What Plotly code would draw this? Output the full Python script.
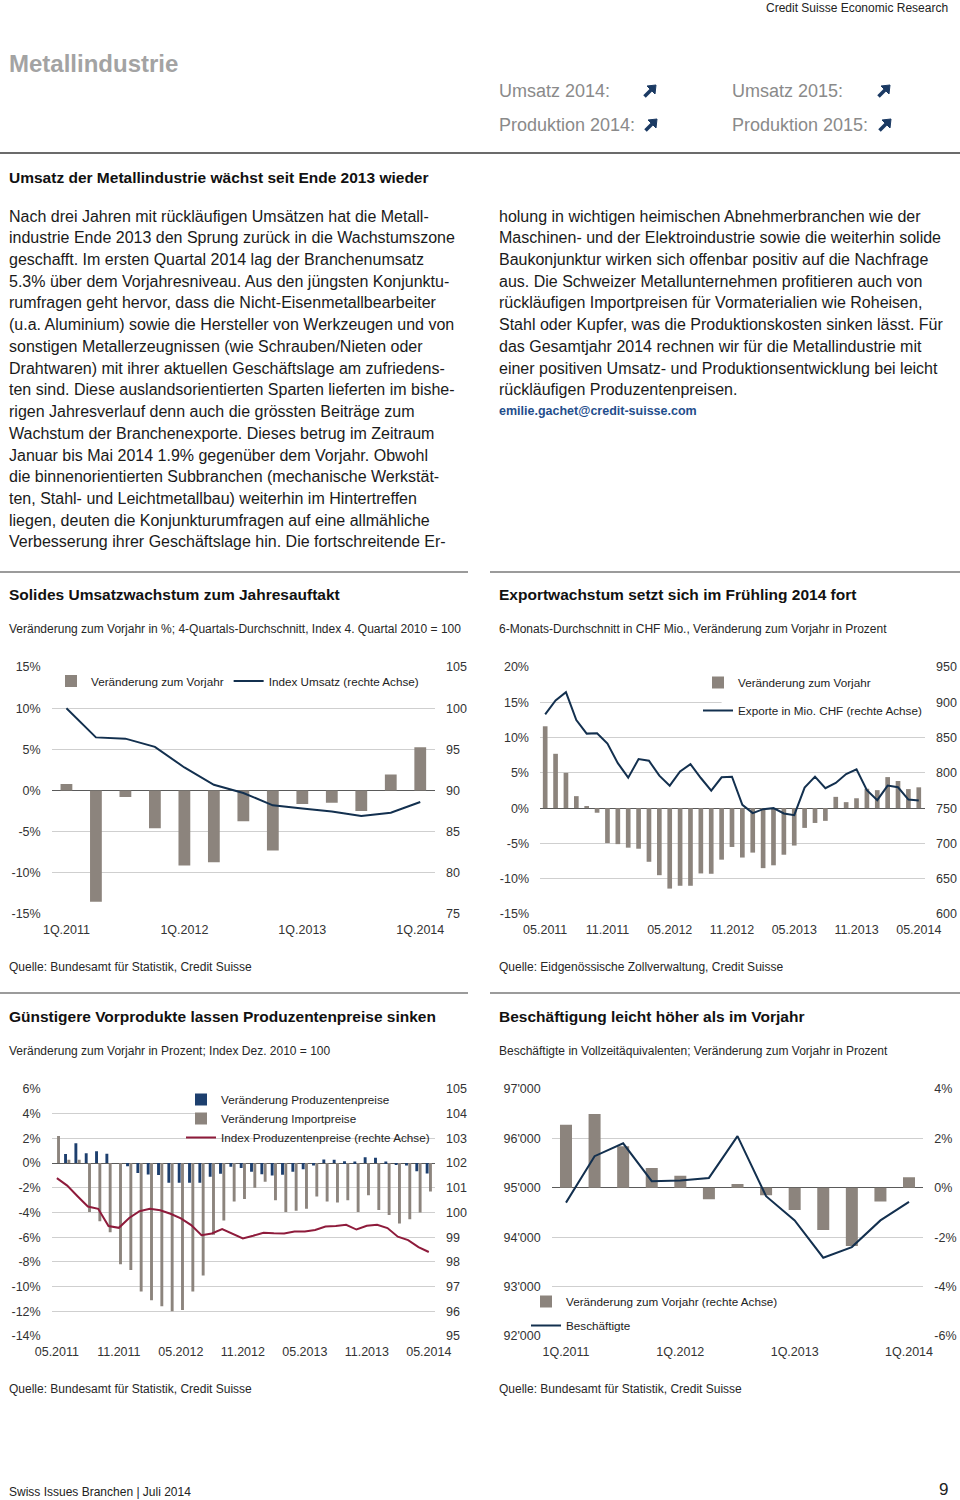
import plotly.graph_objects as go

W, H = 960, 1500
FONT = "Liberation Sans, Arial, Helvetica, sans-serif"


def X(p):
    return p / W


def Y(p):
    return 1 - p / H


# ---------------- data ----------------
quarters = ["1Q.2011", "2Q.2011", "3Q.2011", "4Q.2011", "1Q.2012", "2Q.2012", "3Q.2012",
            "4Q.2012", "1Q.2013", "2Q.2013", "3Q.2013", "4Q.2013", "1Q.2014"]
quarter_ticks = ["1Q.2011", "1Q.2012", "1Q.2013", "1Q.2014"]

months = ["05.2011", "06.2011", "07.2011", "08.2011", "09.2011", "10.2011", "11.2011", "12.2011",
          "01.2012", "02.2012", "03.2012", "04.2012", "05.2012", "06.2012", "07.2012", "08.2012",
          "09.2012", "10.2012", "11.2012", "12.2012", "01.2013", "02.2013", "03.2013", "04.2013",
          "05.2013", "06.2013", "07.2013", "08.2013", "09.2013", "10.2013", "11.2013", "12.2013",
          "01.2014", "02.2014", "03.2014", "04.2014", "05.2014"]
month_ticks = ["05.2011", "11.2011", "05.2012", "11.2012", "05.2013", "11.2013", "05.2014"]

# Chart 1: Umsatz
umsatz_change = [0.8, -13.5, -0.8, -4.6, -9.1, -8.7, -3.75, -7.3, -1.65, -1.5, -2.5, 1.95, 5.25]
umsatz_index = [100.0, 96.45, 96.3, 95.3, 92.8, 90.7, 89.7, 88.2, 87.8, 87.45, 86.9, 87.3, 88.6]
c1_left_vals = [-15, -10, -5, 0, 5, 10, 15]
c1_left_text = ["-15%", "-10%", "-5%", "0%", "5%", "10%", "15%"]
c1_right_vals = [75, 80, 85, 90, 95, 100, 105]

# Chart 2: Exporte
export_change = [11.6, 7.7, 5.0, 1.7, 0.3, -0.65, -4.95, -5.1, -5.6, -5.75, -7.6, -9.5, -11.4,
                 -11.0, -11.0, -9.25, -9.3, -7.3, -5.5, -7.0, -6.3, -8.5, -8.1, -6.6, -5.3, -2.8,
                 -2.1, -1.8, 1.6, 0.85, 1.4, 2.75, 2.55, 4.4, 3.85, 2.7, 2.95]
export_level = [883.0, 902.6, 914.3, 874.9, 855.6, 856.1, 841.5, 813.8, 793.2, 819.5, 817.1,
                796.0, 781.9, 802.1, 812.4, 792.7, 774.9, 793.7, 794.6, 754.7, 743.0, 748.6,
                750.0, 742.5, 740.1, 779.1, 794.6, 778.2, 785.7, 798.4, 804.9, 775.4, 761.3,
                781.9, 779.6, 762.2, 760.8]
c2_left_vals = [-15, -10, -5, 0, 5, 10, 15, 20]
c2_left_text = ["-15%", "-10%", "-5%", "0%", "5%", "10%", "15%", "20%"]
c2_right_vals = [600, 650, 700, 750, 800, 850, 900, 950]

# Chart 3: Preise
producer_change = [0.0, 0.73, 1.6, 0.8, 0.95, 0.75, 0.0, -0.25, -0.8, -0.92, -0.97, -1.6, -1.6,
                   -1.6, -1.6, -1.1, -0.86, -0.3, -0.4, -0.7, -0.9, -1.0, -0.95, -0.7, -0.5,
                   -0.2, 0.3, 0.27, 0.15, 0.13, 0.48, 0.43, 0.13, -0.13, -0.2, -0.65, -0.85]
import_change = [2.2, 0.27, 0.27, -3.96, -4.7, -5.6, -8.2, -8.65, -10.4, -11.1, -11.6, -12.0,
                 -11.9, -10.4, -9.1, -5.8, -4.65, -3.1, -2.9, -2.0, -1.5, -3.0, -3.96, -3.85,
                 -3.7, -2.7, -3.1, -3.2, -3.0, -3.96, -2.6, -3.8, -4.2, -4.9, -4.55, -4.0, -2.3]
producer_index = [101.39, 101.09, 100.66, 100.24, 100.15, 99.45, 99.38, 99.78, 100.05, 100.15,
                  100.09, 99.95, 99.76, 99.49, 99.08, 99.15, 99.33, 99.15, 98.95, 99.06, 99.18,
                  99.16, 99.15, 99.23, 99.23, 99.29, 99.43, 99.45, 99.50, 99.31, 99.46, 99.50,
                  99.37, 99.02, 98.88, 98.60, 98.40]
c3_left_vals = [-14, -12, -10, -8, -6, -4, -2, 0, 2, 4, 6]
c3_left_text = ["-14%", "-12%", "-10%", "-8%", "-6%", "-4%", "-2%", "0%", "2%", "4%", "6%"]
c3_right_vals = [95, 96, 97, 98, 99, 100, 101, 102, 103, 104, 105]

# Chart 4: Beschäftigung
employment_change = [2.55, 2.99, 1.68, 0.8, 0.49, -0.46, 0.15, -0.3, -0.9, -1.71, -2.36, -0.55, 0.43]
employment = [94700, 95640, 95900, 95135, 95150, 95200, 96045, 94830, 94340, 93585, 93800, 94340, 94715]
c4_left_vals = [92000, 93000, 94000, 95000, 96000, 97000]
c4_left_text = ["92'000", "93'000", "94'000", "95'000", "96'000", "97'000"]
c4_right_vals = [-6, -4, -2, 0, 2, 4]
c4_right_text = ["-6%", "-4%", "-2%", "0%", "2%", "4%"]

# ---------------- style ----------------
BAR = "#8c847d"
NAVY = "#13304f"
BLUE = "#1d3f6e"
RED = "#8e1b3b"
GRID = "#cfcfcf"
ZERO = "#5a5a5a"
TICK = dict(size=12.5, color="#333333", family=FONT)
LEG = dict(size=11.7, color="#222222", family=FONT)

fig = go.Figure()

# Chart 1
fig.add_trace(go.Bar(x=quarters, y=umsatz_change, name="Veränderung zum Vorjahr", marker_color=BAR,
                     width=0.4, xaxis="x", yaxis="y", legend="legend"))
fig.add_trace(go.Scatter(x=quarters, y=umsatz_index, name="Index Umsatz (rechte Achse)", mode="lines",
                         line=dict(color=NAVY, width=2), xaxis="x", yaxis="y2", legend="legend"))
# Chart 2
fig.add_trace(go.Bar(x=months, y=export_change, name="Veränderung zum Vorjahr", marker_color=BAR,
                     width=0.45, xaxis="x2", yaxis="y3", legend="legend2", legendgroup="a"))
fig.add_trace(go.Scatter(x=months, y=export_level, name="Exporte in Mio. CHF (rechte Achse)", mode="lines",
                         line=dict(color=NAVY, width=2), xaxis="x2", yaxis="y4", legend="legend2",
                         legendgroup="b"))
# Chart 3
fig.add_trace(go.Bar(x=months, y=producer_change, name="Veränderung Produzentenpreise", marker_color=BLUE,
                     width=0.28, offset=-0.3, xaxis="x3", yaxis="y5", legend="legend3"))
fig.add_trace(go.Bar(x=months, y=import_change, name="Veränderung Importpreise", marker_color=BAR,
                     width=0.28, offset=0.02, xaxis="x3", yaxis="y5", legend="legend3"))
fig.add_trace(go.Scatter(x=months, y=producer_index, name="Index Produzentenpreise (rechte Achse)",
                         mode="lines", line=dict(color=RED, width=2), xaxis="x3", yaxis="y6",
                         legend="legend3"))
# Chart 4
fig.add_trace(go.Bar(x=quarters, y=employment_change, name="Veränderung zum Vorjahr (rechte Achse)",
                     marker_color=BAR, width=0.42, xaxis="x4", yaxis="y7", legend="legend4",
                     legendgroup="a"))
fig.add_trace(go.Scatter(x=quarters, y=employment, name="Beschäftigte", mode="lines",
                         line=dict(color=NAVY, width=2), xaxis="x4", yaxis="y8", legend="legend4",
                         legendgroup="b"))


def xax(x0, x1, anchor, ticks):
    return dict(domain=[X(x0), X(x1)], anchor=anchor, type="category", tickvals=ticks,
                showgrid=False, showline=False, zeroline=False, ticks="", tickfont=TICK,
                ticklabelstandoff=6, automargin=False, fixedrange=True)


def yax(top, bottom, rng, vals, text, grid=True, side="left", overlay=None, anchor=None, zero=False):
    d = dict(range=rng, tickvals=vals, ticktext=text, showgrid=grid, gridcolor=GRID, gridwidth=1,
             zeroline=zero, zerolinecolor=ZERO, zerolinewidth=1.3, showline=False, ticks="",
             tickfont=TICK, side=side, ticklabelstandoff=10, automargin=False, fixedrange=True)
    if overlay:
        d["overlaying"] = overlay
    else:
        d["domain"] = [Y(bottom), Y(top)]
    if anchor:
        d["anchor"] = anchor
    return d


fig.update_layout(
    width=W, height=H, margin=dict(l=0, r=0, t=0, b=0), template="none",
    paper_bgcolor="white", plot_bgcolor="rgba(0,0,0,0)", barmode="overlay",
    font=dict(family=FONT, color="#222222"),
    xaxis=xax(51.7, 435, "y", quarter_ticks),
    yaxis=yax(667, 914, [-15, 15], c1_left_vals, c1_left_text, zero=True, anchor="x"),
    yaxis2=yax(0, 0, [75, 105], c1_right_vals, [str(v) for v in c1_right_vals], grid=False,
               side="right", overlay="y", anchor="x"),
    xaxis2=xax(540, 925, "y3", month_ticks),
    yaxis3=yax(667, 914, [-15, 20], c2_left_vals, c2_left_text, zero=True, anchor="x2"),
    yaxis4=yax(0, 0, [600, 950], c2_right_vals, [str(v) for v in c2_right_vals], grid=False,
               side="right", overlay="y3", anchor="x2"),
    xaxis3=xax(51.7, 435, "y5", month_ticks),
    yaxis5=yax(1089, 1336, [-14, 6], c3_left_vals, c3_left_text, zero=True, anchor="x3"),
    yaxis6=yax(0, 0, [95, 105], c3_right_vals, [str(v) for v in c3_right_vals], grid=False,
               side="right", overlay="y5", anchor="x3"),
    xaxis4=xax(551.7, 923.3, "y7", quarter_ticks),
    yaxis7=yax(1089, 1336, [-6, 4], c4_right_vals, c4_right_text, zero=True, side="right", anchor="x4"),
    yaxis8=yax(0, 0, [92000, 97000], c4_left_vals, c4_left_text, grid=False, side="left",
               overlay="y7", anchor="x4"),
    legend=dict(x=X(51), y=Y(681), xanchor="left", yanchor="middle", orientation="h",
                bgcolor="rgba(0,0,0,0)", font=LEG, itemwidth=30, traceorder="normal"),
    legend2=dict(x=X(698), y=Y(668), xanchor="left", yanchor="top", orientation="v",
                 bgcolor="rgba(0,0,0,0)", font=LEG, itemwidth=30, tracegroupgap=9,
                 traceorder="grouped"),
    legend3=dict(x=X(181), y=Y(1085), xanchor="left", yanchor="top", orientation="v",
                 bgcolor="rgba(0,0,0,0)", font=LEG, itemwidth=30, traceorder="normal"),
    legend4=dict(x=X(526), y=Y(1287), xanchor="left", yanchor="top", orientation="v",
                 bgcolor="rgba(0,0,0,0)", font=LEG, itemwidth=30, tracegroupgap=5,
                 traceorder="grouped"),
)

# ---------------- page text ----------------
ann = []


def text(x, y, s, size, color="#1a1a1a", bold=False, anchor="left"):
    if bold:
        s = "<b>" + s + "</b>"
    ann.append(dict(x=X(x), y=Y(y), xref="paper", yref="paper", text=s, showarrow=False,
                    xanchor=anchor, yanchor="middle", font=dict(size=size, color=color, family=FONT)))


text(950, 8, "Credit Suisse Economic Research", 12, "#222222", anchor="right")
text(7, 64, "Metallindustrie", 24, "#a3a3a3", bold=True)
text(497, 91, "Umsatz 2014:", 18, "#8a8a8a")
text(730, 91, "Umsatz 2015:", 18, "#8a8a8a")
text(497, 125, "Produktion 2014:", 18, "#8a8a8a")
text(730, 125, "Produktion 2015:", 18, "#8a8a8a")

text(7, 177, "Umsatz der Metallindustrie wächst seit Ende 2013 wieder", 15.5, "#111111", bold=True)

left_lines = [
    "Nach drei Jahren mit rückläufigen Umsätzen hat die Metall-",
    "industrie Ende 2013 den Sprung zurück in die Wachstumszone",
    "geschafft. Im ersten Quartal 2014 lag der Branchenumsatz",
    "5.3% über dem Vorjahresniveau. Aus den jüngsten Konjunktu-",
    "rumfragen geht hervor, dass die Nicht-Eisenmetallbearbeiter",
    "(u.a. Aluminium) sowie die Hersteller von Werkzeugen und von",
    "sonstigen Metallerzeugnissen (wie Schrauben/Nieten oder",
    "Drahtwaren) mit ihrer aktuellen Geschäftslage am zufriedens-",
    "ten sind. Diese auslandsorientierten Sparten lieferten im bishe-",
    "rigen Jahresverlauf denn auch die grössten Beiträge zum",
    "Wachstum der Branchenexporte. Dieses betrug im Zeitraum",
    "Januar bis Mai 2014 1.9% gegenüber dem Vorjahr. Obwohl",
    "die binnenorientierten Subbranchen (mechanische Werkstät-",
    "ten, Stahl- und Leichtmetallbau) weiterhin im Hintertreffen",
    "liegen, deuten die Konjunkturumfragen auf eine allmähliche",
    "Verbesserung ihrer Geschäftslage hin. Die fortschreitende Er-",
]
right_lines = [
    "holung in wichtigen heimischen Abnehmerbranchen wie der",
    "Maschinen- und der Elektroindustrie sowie die weiterhin solide",
    "Baukonjunktur wirken sich offenbar positiv auf die Nachfrage",
    "aus. Die Schweizer Metallunternehmen profitieren auch von",
    "rückläufigen Importpreisen für Vormaterialien wie Roheisen,",
    "Stahl oder Kupfer, was die Produktionskosten sinken lässt. Für",
    "das Gesamtjahr 2014 rechnen wir für die Metallindustrie mit",
    "einer positiven Umsatz- und Produktionsentwicklung bei leicht",
    "rückläufigen Produzentenpreisen.",
]
for i, s in enumerate(left_lines):
    text(7, 216 + i * 21.73, s, 16, "#1a1a1a")
for i, s in enumerate(right_lines):
    text(497, 216 + i * 21.73, s, 16, "#1a1a1a")
text(497, 411, "emilie.gachet@credit-suisse.com", 12.5, "#1f4e8c", bold=True)

text(7, 594, "Solides Umsatzwachstum zum Jahresauftakt", 15.5, "#111111", bold=True)
text(497, 594, "Exportwachstum setzt sich im Frühling 2014 fort", 15.5, "#111111", bold=True)
text(7, 629, "Veränderung zum Vorjahr in %; 4-Quartals-Durchschnitt, Index 4. Quartal 2010 = 100", 12, "#262626")
text(497, 629, "6-Monats-Durchschnitt in CHF Mio., Veränderung zum Vorjahr in Prozent", 12, "#262626")
text(7, 967, "Quelle: Bundesamt für Statistik, Credit Suisse", 12, "#262626")
text(497, 967, "Quelle: Eidgenössische Zollverwaltung, Credit Suisse", 12, "#262626")

text(7, 1016, "Günstigere Vorprodukte lassen Produzentenpreise sinken", 15.5, "#111111", bold=True)
text(497, 1016, "Beschäftigung leicht höher als im Vorjahr", 15.5, "#111111", bold=True)
text(7, 1051, "Veränderung zum Vorjahr in Prozent; Index Dez. 2010 = 100", 12, "#262626")
text(497, 1051, "Beschäftigte in Vollzeitäquivalenten; Veränderung zum Vorjahr in Prozent", 12, "#262626")
text(7, 1389, "Quelle: Bundesamt für Statistik, Credit Suisse", 12, "#262626")
text(497, 1389, "Quelle: Bundesamt für Statistik, Credit Suisse", 12, "#262626")

text(7, 1492, "Swiss Issues Branchen | Juli 2014", 12, "#222222")
text(950, 1489, "9", 17, "#222222", anchor="right")

fig.update_layout(annotations=ann)

# ---------------- rules, gridline breaks and arrows ----------------
shapes = []


def hline(x0, x1, y, color, width):
    shapes.append(dict(type="line", xref="paper", yref="paper", x0=X(x0), x1=X(x1), y0=Y(y), y1=Y(y),
                       line=dict(color=color, width=width)))


hline(0, 960, 153, "#6b6b6b", 2)
hline(0, 468, 572, "#7a7a7a", 1.5)
hline(490, 960, 572, "#7a7a7a", 1.5)
hline(0, 468, 993, "#7a7a7a", 1.5)
hline(490, 960, 993, "#7a7a7a", 1.5)

# white masks behind the legends that interrupt a gridline (as in the original)
shapes.append(dict(type="rect", xref="x2", yref="y3", x0=17.0, x1=36.6, y0=14.2, y1=15.8,
                   fillcolor="white", line=dict(width=0), layer="between"))
shapes.append(dict(type="rect", xref="x3", yref="y5", x0=13.5, x1=36.6, y0=3.7, y1=4.3,
                   fillcolor="white", line=dict(width=0), layer="between"))


def arrow(cx, cy):
    col = "#1b3a63"
    shapes.append(dict(type="line", xref="paper", yref="paper", x0=X(cx - 5.5), y0=Y(cy + 5.5),
                       x1=X(cx + 2), y1=Y(cy - 2), line=dict(color=col, width=3.6)))
    pts = [(cx + 6, cy - 6), (cx - 3, cy - 5), (cx + 5, cy + 3)]
    path = "M {} {} L {} {} L {} {} Z".format(X(pts[0][0]), Y(pts[0][1]), X(pts[1][0]), Y(pts[1][1]),
                                             X(pts[2][0]), Y(pts[2][1]))
    shapes.append(dict(type="path", xref="paper", yref="paper", path=path, fillcolor=col,
                       line=dict(color=col, width=1)))


arrow(650, 91)
arrow(884, 91)
arrow(651, 125)
arrow(885, 125)

fig.update_layout(shapes=shapes)

fig.write_html("out.html", config={"displayModeBar": False},
               post_script="document.body.style.margin='0';document.body.style.overflow='hidden';")
